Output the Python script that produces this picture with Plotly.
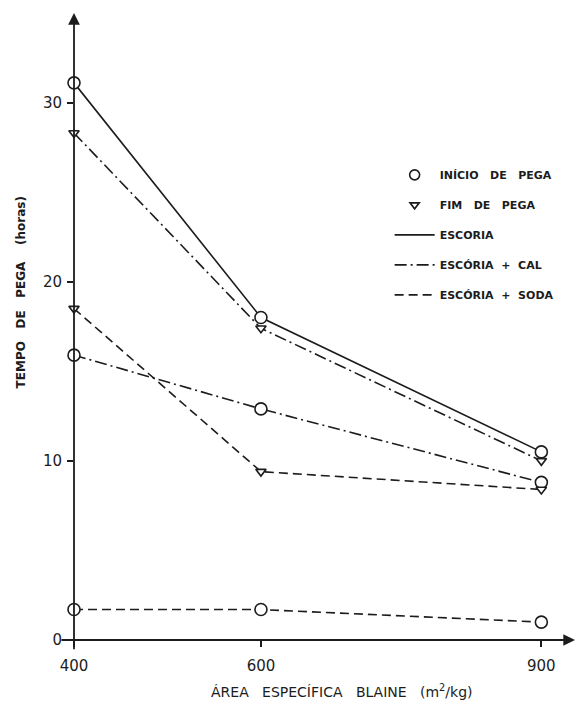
import plotly.graph_objects as go

# Blaine specific surface (m2/kg)
area = [400, 600, 900]

# Setting times (hours)
escoria_inicio = [31.1, 18.0, 10.5]
escoria_cal_fim = [28.3, 17.4, 10.0]
escoria_cal_inicio = [15.9, 12.9, 8.8]
escoria_soda_fim = [18.5, 9.4, 8.4]
escoria_soda_inicio = [1.7, 1.7, 1.0]

y_ticks = [0, 10, 20, 30]
x_ticks = [400, 600, 900]

INK = "#1c1c1c"
FONT = "DejaVu Sans"
SOLID = "solid"
DASHDOT = "12px,4px,2px,4px"
DASH = "9px,5px"

series = [
    (escoria_inicio, SOLID, "circle"),
    (escoria_cal_fim, DASHDOT, "triangle-down"),
    (escoria_cal_inicio, DASHDOT, "circle"),
    (escoria_soda_fim, DASH, "triangle-down"),
    (escoria_soda_inicio, DASH, "circle"),
]

fig = go.Figure()

for vals, dash, sym in series:
    fig.add_trace(go.Scatter(
        x=area, y=vals, mode="lines+markers",
        line=dict(color=INK, width=1.6, dash=dash),
        marker=dict(symbol=sym, size=12 if sym == "circle" else 9,
                    color="white", line=dict(color=INK, width=1.6)),
        showlegend=False, cliponaxis=False,
    ))

# legend entries
legend_items = [
    ("INÍCIO   DE   PEGA", "markers", "circle", SOLID),
    ("FIM   DE   PEGA", "markers", "triangle-down", SOLID),
    ("ESCORIA", "lines", None, SOLID),
    ("ESCÓRIA  +  CAL", "lines", None, DASHDOT),
    ("ESCÓRIA  +  SODA", "lines", None, DASH),
]
for i, (name, mode, sym, dash) in enumerate(legend_items):
    fig.add_trace(go.Scatter(
        x=[None], y=[None], mode=mode, name=name, legendgroup=f"g{i}",
        line=dict(color=INK, width=1.6, dash=dash),
        marker=dict(symbol=sym or "circle", size=10 if sym == "circle" else 8,
                    color="white", line=dict(color=INK, width=1.6)),
    ))

# axes with arrowheads
fig.add_annotation(x=400, y=35, ax=400, ay=-0.6, xref="x", yref="y",
                   axref="x", ayref="y", showarrow=True, arrowhead=2,
                   arrowsize=1.3, arrowwidth=1.8, arrowcolor=INK, text="")
fig.add_annotation(x=936, y=0, ax=385, ay=0, xref="x", yref="y",
                   axref="x", ayref="y", showarrow=True, arrowhead=2,
                   arrowsize=1.3, arrowwidth=1.8, arrowcolor=INK, text="")

# axis titles
fig.add_annotation(x=0.535, y=-0.082, xref="paper", yref="paper",
                   text="ÁREA   ESPECÍFICA   BLAINE   (m<sup>2</sup>/kg)",
                   showarrow=False, font=dict(family=FONT, size=14, color=INK),
                   xanchor="center", yanchor="middle")
fig.add_annotation(x=-0.105, y=0.555, xref="paper", yref="paper",
                   text="<b>TEMPO   DE   PEGA    (horas)</b>", textangle=-90,
                   showarrow=False, font=dict(family=FONT, size=12, color=INK),
                   xanchor="center", yanchor="middle")

fig.update_layout(
    width=581, height=704,
    margin=dict(l=74, r=6, t=13, b=64),
    paper_bgcolor="white", plot_bgcolor="white",
    font=dict(family=FONT, color=INK),
    showlegend=True,
    legend=dict(x=0.63, y=0.765, xanchor="left", yanchor="top",
                bgcolor="rgba(0,0,0,0)", tracegroupgap=11,
                font=dict(family=FONT, size=11, color=INK, weight="bold"),
                itemwidth=40),
    xaxis=dict(range=[400, 936], tickvals=x_ticks, showgrid=False,
               zeroline=False, showline=False, ticks="outside", ticklen=6,
               tickwidth=1.5, tickcolor=INK, ticklabelstandoff=6,
               tickfont=dict(family=FONT, size=15, color=INK)),
    yaxis=dict(range=[0, 35], tickvals=y_ticks, showgrid=False,
               zeroline=False, showline=False, ticks="outside", ticklen=6,
               tickwidth=1.5, tickcolor=INK, ticklabelstandoff=2,
               tickfont=dict(family=FONT, size=15, color=INK)),
)

fig.write_html("out.html")
